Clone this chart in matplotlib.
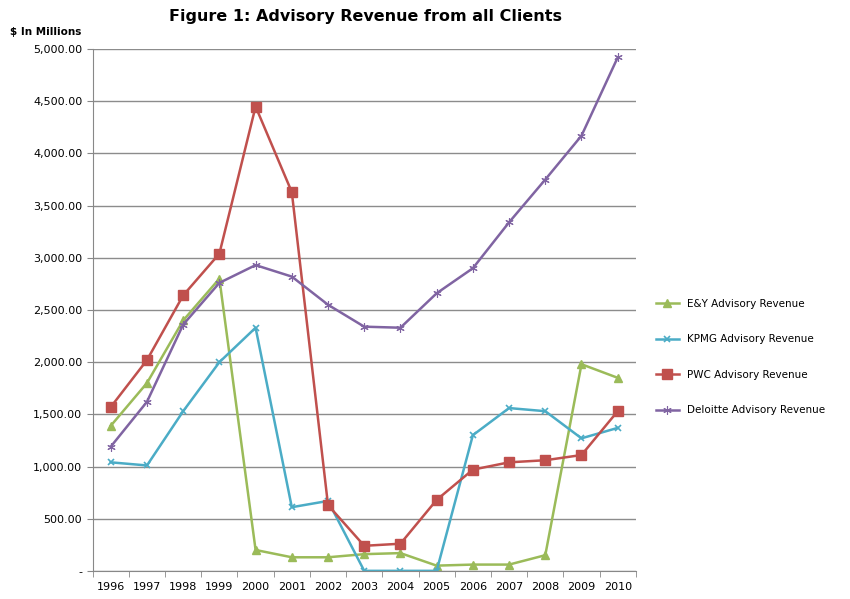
import numpy as np
import matplotlib.pyplot as plt
from matplotlib.ticker import FuncFormatter

years = [str(y) for y in range(1996, 2011)]
ey_rev = [1390, 1800, 2400, 2800, 200, 130, 130, 160, 170, 50, 60, 60, 150, 1980, 1850]
kpmg_rev = [1040, 1010, 1530, 2000, 2330, 610, 670, 0, 0, 0, 1300, 1560, 1530, 1270, 1370]
pwc_rev = [1570, 2020, 2640, 3040, 4450, 3630, 630, 240, 260, 680, 970, 1040, 1060, 1110, 1530]
deloitte_rev = [1190, 1620, 2360, 2760, 2930, 2820, 2550, 2340, 2330, 2660, 2900, 3340, 3750, 4170, 4920]

fig = plt.figure(figsize=(8.5, 5.99), dpi=100)
ax = fig.add_axes([0.109, 0.047, 0.639, 0.871])

x = np.arange(len(years))
ax.plot(x, ey_rev, color="#9BBB59", lw=1.8, marker="^", ms=6, label="E&Y Advisory Revenue")
ax.plot(x, kpmg_rev, color="#4BACC6", lw=1.8, marker="x", ms=5, mew=1.2, label="KPMG Advisory Revenue")
ax.plot(x, pwc_rev, color="#C0504D", lw=1.8, marker="s", ms=7, label="PWC Advisory Revenue")
ax.plot(x, deloitte_rev, color="#8064A2", lw=1.8, marker=(6, 2, 0), ms=6, mew=0.8, label="Deloitte Advisory Revenue")

ax.set_xlim(-0.5, len(years) - 0.5)
ax.set_ylim(0, 5000)
ax.set_xticks(x)
ax.set_xticklabels(years, fontsize=8)
ax.set_xticks(np.arange(-0.5, len(years), 1), minor=True)
ax.tick_params(axis="x", which="major", length=0, pad=8)
ax.tick_params(axis="x", which="minor", length=4, color="#888888")
ax.set_yticks(range(0, 5001, 500))
ax.yaxis.set_major_formatter(FuncFormatter(lambda v, p: "-" if v == 0 else "{:,.2f}".format(v)))
ax.tick_params(axis="y", labelsize=8, length=4, color="#888888")

ax.grid(axis="y", color="#8c8c8c", lw=1)
ax.set_axisbelow(True)
for s in ["top", "right"]:
    ax.spines[s].set_visible(False)
ax.spines["left"].set_color("#888888")
ax.spines["bottom"].set_color("#888888")

fig.text(0.43, 0.972, "Figure 1: Advisory Revenue from all Clients", ha="center", va="center",
         fontsize=11.5, fontweight="bold")
fig.text(0.012, 0.946, "$ In Millions", ha="left", va="center", fontsize=7.5, fontweight="bold")

ax.legend(loc="center left", bbox_to_anchor=(1.02, 0.41), frameon=False, fontsize=7.5,
          labelspacing=2.45, handlelength=2.2)

fig.savefig("out.png", dpi=100)
